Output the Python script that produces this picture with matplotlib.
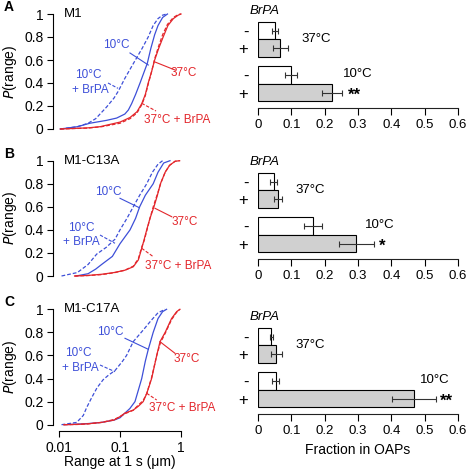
import numpy as np
import matplotlib
matplotlib.use("Agg")
import matplotlib.pyplot as plt

plt.rcParams['font.family'] = ['Liberation Sans', 'DejaVu Sans']
plt.rcParams['mathtext.default'] = 'regular'

W, H = 468, 471
BLUE = '#3d4fd8'
RED = '#e3262b'

# ---------------- data ----------------
panel_letters = ['A', 'B', 'C']
constructs = ['M1', 'M1-C13A', 'M1-C17A']

# CDF curves: x (range at 1 s, um), y (P(range))
a10_x = [0.0105, 0.02, 0.032, 0.06, 0.088, 0.12, 0.137, 0.155, 0.18, 0.213, 0.25, 0.28, 0.32, 0.37, 0.42, 0.5, 0.6]
a10_y = [0, 0.02, 0.05, 0.075, 0.095, 0.13, 0.165, 0.22, 0.3, 0.4, 0.5, 0.57, 0.7, 0.82, 0.9, 0.97, 1.0]
a10b_x = [0.0105, 0.02, 0.03, 0.04, 0.06, 0.08, 0.094, 0.12, 0.15, 0.188, 0.23, 0.29, 0.35, 0.42, 0.5, 0.58]
a10b_y = [0, 0.02, 0.05, 0.09, 0.19, 0.27, 0.33, 0.44, 0.53, 0.62, 0.7, 0.8, 0.9, 0.96, 0.99, 1.0]
a37_x = [0.0105, 0.03, 0.047, 0.1, 0.146, 0.19, 0.227, 0.26, 0.29, 0.33, 0.37, 0.43, 0.51, 0.61, 0.75, 0.9, 1.0]
a37_y = [0, 0.01, 0.02, 0.06, 0.10, 0.15, 0.22, 0.3, 0.4, 0.5, 0.6, 0.7, 0.8, 0.9, 0.96, 0.99, 1.0]
a37b_x = [0.0105, 0.03, 0.05, 0.1, 0.146, 0.19, 0.227, 0.26, 0.29, 0.33, 0.37, 0.43, 0.5, 0.6, 0.75, 0.9, 1.0]
a37b_y = [0, 0.008, 0.02, 0.05, 0.09, 0.14, 0.21, 0.29, 0.39, 0.5, 0.61, 0.72, 0.82, 0.91, 0.97, 0.995, 1.0]

b10_x = [0.019, 0.03, 0.04, 0.05, 0.075, 0.1, 0.146, 0.18, 0.21, 0.26, 0.35, 0.42, 0.52, 0.66]
b10_y = [0, 0.02, 0.06, 0.1, 0.17, 0.28, 0.4, 0.5, 0.6, 0.7, 0.8, 0.9, 0.98, 1.0]
b10b_x = [0.011, 0.02, 0.03, 0.0415, 0.06, 0.083, 0.1, 0.13, 0.165, 0.21, 0.274, 0.34, 0.42, 0.5]
b10b_y = [0, 0.03, 0.1, 0.19, 0.25, 0.32, 0.4, 0.5, 0.6, 0.7, 0.8, 0.9, 0.97, 1.0]
b37_x = [0.018, 0.03, 0.05, 0.08, 0.12, 0.165, 0.2, 0.227, 0.25, 0.274, 0.31, 0.36, 0.41, 0.46, 0.55, 0.65, 0.8, 0.95]
b37_y = [0, 0.005, 0.015, 0.03, 0.05, 0.08, 0.14, 0.24, 0.32, 0.4, 0.5, 0.6, 0.7, 0.8, 0.9, 0.96, 0.995, 1.0]
b37b_x = [0.018, 0.03, 0.05, 0.08, 0.12, 0.165, 0.2, 0.227, 0.25, 0.274, 0.31, 0.355, 0.41, 0.47, 0.55, 0.65, 0.8, 0.95]
b37b_y = [0, 0.004, 0.012, 0.028, 0.05, 0.085, 0.15, 0.25, 0.31, 0.39, 0.5, 0.61, 0.71, 0.81, 0.9, 0.96, 0.995, 1.0]

c10_x = [0.012, 0.02, 0.03, 0.05, 0.08, 0.1, 0.12, 0.145, 0.176, 0.2, 0.227, 0.26, 0.29, 0.35, 0.42, 0.5, 0.58]
c10_y = [0, 0.005, 0.01, 0.02, 0.04, 0.06, 0.1, 0.14, 0.2, 0.3, 0.4, 0.55, 0.65, 0.8, 0.92, 0.98, 1.0]
c10b_x = [0.011, 0.0195, 0.025, 0.0285, 0.034, 0.042, 0.053, 0.065, 0.083, 0.11, 0.128, 0.165, 0.24, 0.32, 0.42, 0.55]
c10b_y = [0, 0.02, 0.08, 0.15, 0.23, 0.32, 0.39, 0.43, 0.47, 0.55, 0.6, 0.72, 0.82, 0.9, 0.97, 1.0]
c37_x = [0.012, 0.02, 0.03, 0.05, 0.08, 0.1, 0.12, 0.165, 0.2, 0.24, 0.274, 0.33, 0.4, 0.453, 0.55, 0.7, 0.85, 0.96]
c37_y = [0, 0.003, 0.008, 0.02, 0.04, 0.07, 0.1, 0.127, 0.16, 0.2, 0.27, 0.4, 0.6, 0.72, 0.8, 0.92, 0.98, 1.0]
c37b_x = [0.012, 0.02, 0.03, 0.05, 0.08, 0.1, 0.12, 0.165, 0.2, 0.24, 0.274, 0.33, 0.4, 0.46, 0.56, 0.7, 0.85, 0.96]
c37b_y = [0, 0.002, 0.007, 0.02, 0.045, 0.07, 0.095, 0.125, 0.17, 0.21, 0.27, 0.41, 0.6, 0.71, 0.8, 0.91, 0.975, 1.0]

curves = [
    [(a10_x, a10_y), (a10b_x, a10b_y), (a37_x, a37_y), (a37b_x, a37b_y)],
    [(b10_x, b10_y), (b10b_x, b10b_y), (b37_x, b37_y), (b37b_x, b37b_y)],
    [(c10_x, c10_y), (c10b_x, c10b_y), (c37_x, c37_y), (c37b_x, c37b_y)],
]

# Bars: order 37-, 37+, 10-, 10+
bar_labels = ['-', '+', '-', '+']
bars_mean = [[0.051, 0.067, 0.099, 0.222],
             [0.047, 0.060, 0.165, 0.295],
             [0.040, 0.055, 0.053, 0.467]]
bars_err = [[0.010, 0.023, 0.018, 0.031],
            [0.010, 0.013, 0.028, 0.053],
            [0.005, 0.017, 0.010, 0.066]]
stars = ['**', '*', '**']
xticks_bar = [0, 0.1, 0.2, 0.3, 0.4, 0.5, 0.6]
xticks_cdf = [0.01, 0.1, 1]
xticklabels_cdf = ['0.01', '0.1', '1']

# ---------------- layout (pixels) ----------------
left_y0 = [129, 276, 424.7]   # pixel y of P=0
left_y1 = [14, 160.7, 309.3]  # pixel y of P=1
bar_axis_py = [108, 259, 414]  # pixel y of bar x-axis
bar_pos = [0, 1, 2.54, 3.54]
bar_unit = 17.5
bar_ylim = (4.42, -0.85)

fig = plt.figure(figsize=(W / 100, H / 100), dpi=100)

def to_data(ax, px, py):
    return ax.transData.inverted().transform((px, H - py))

def pointer(ax, p0, p1, color, dashed=False):
    a = to_data(ax, *p0)
    b = to_data(ax, *p1)
    ax.plot([a[0], b[0]], [a[1], b[1]], color=color, lw=0.8,
            ls=(0, (3, 1.5)) if dashed else '-', clip_on=False)

def label(ax, px, py, s, color, **kw):
    d = to_data(ax, px, py)
    ax.text(d[0], d[1], s, color=color, fontsize=8.5, ha='center', va='center',
            clip_on=False, **kw)

ann = [
    dict(t10=(116.7, 45), p10=((130, 53), (148.3, 65)),
         t10b=((88, 75), (90, 90)), p10b=((108, 83), (118, 88.3)),
         t37=(184, 73), p37=((155, 62), (175, 70)),
         t37b=(177, 120), p37b=((141.7, 103.3), (156, 111))),
    dict(t10=(108.3, 191.7), p10=((120, 198.3), (139.3, 207.7)),
         t10b=((81.7, 228.3), (81.7, 241.7)), p10b=((100, 235), (115, 243.3)),
         t37=(185, 221.7), p37=((155, 208.3), (171.7, 216.7)),
         t37b=(178.3, 266), p37b=((141.7, 248.3), (153.3, 256.7))),
    dict(t10=(110, 331.7), p10=((125, 338.3), (148.3, 349.3)),
         t10b=((78.3, 353.3), (80, 368.3)), p10b=((100, 365), (115, 371.7)),
         t37=(186.7, 359.3), p37=((160, 341.7), (175, 353.3)),
         t37b=(181.7, 408.3), p37b=((146.7, 393.3), (156.7, 400))),
]

degC = '10\u00b0C'
deg37 = '37\u00b0C'

for i in range(3):
    # ---- CDF panel ----
    y0, y1 = left_y0[i], left_y1[i]
    ax = fig.add_axes([59 / W, 1 - y0 / H, 122 / W, (y0 - y1) / H])
    ax.set_xscale('log')
    ax.set_xlim(0.01, 1)
    ax.set_ylim(0, 1)
    styles = [(BLUE, '-'), (BLUE, (0, (3, 1.6))), (RED, '-'), (RED, (0, (3, 1.6)))]
    for (xs, ys), (c, ls) in zip(curves[i], styles):
        ax.plot(xs, ys, color=c, ls=ls, lw=0.9, clip_on=False)
    for s in ['top', 'right']:
        ax.spines[s].set_visible(False)
    ax.spines['left'].set_position(('outward', 4.5))
    ax.spines['left'].set_linewidth(0.8)
    ax.set_yticks([0, 0.2, 0.4, 0.6, 0.8, 1])
    ax.set_yticklabels(['0', '0.2', '0.4', '0.6', '0.8', '1'])
    ax.tick_params(axis='y', length=4.5, width=0.8, pad=2, labelsize=10)
    ax.minorticks_off()
    if i < 2:
        ax.spines['bottom'].set_visible(False)
        ax.set_xticks([])
    else:
        ax.spines['bottom'].set_position(('outward', 4.5))
        ax.spines['bottom'].set_linewidth(0.8)
        ax.set_xticks(xticks_cdf)
        ax.set_xticklabels(xticklabels_cdf)
        ax.tick_params(axis='x', length=4.5, width=0.8, pad=2.5, labelsize=10)
        ax.set_xlabel('Range at 1 s (\u03bcm)', fontsize=10, labelpad=0.5)
    ax.set_ylabel('$\\mathit{P}$(range)', fontsize=10, labelpad=4)
    ax.text(0.04, 1.0, constructs[i], transform=ax.transAxes, fontsize=9.5,
            ha='left', va='center')
    fig.text(4 / W, 1 - (left_y1[i] - 7) / H, panel_letters[i], fontsize=10,
             fontweight='bold', ha='left', va='center')

    a = ann[i]
    label(ax, *a['t10'], degC, BLUE)
    pointer(ax, *a['p10'], BLUE)
    label(ax, *a['t10b'][0], degC, BLUE)
    label(ax, *a['t10b'][1], '+ BrPA', BLUE)
    pointer(ax, *a['p10b'], BLUE, dashed=True)
    label(ax, *a['t37'], deg37, RED)
    pointer(ax, *a['p37'], RED)
    label(ax, *a['t37b'], deg37 + ' + BrPA', RED)
    pointer(ax, *a['p37b'], RED, dashed=True)

    # ---- Bar panel ----
    bpy = bar_axis_py[i]
    hpx = (bar_ylim[0] - bar_ylim[1]) * bar_unit
    bx = fig.add_axes([258 / W, 1 - bpy / H, 200 / W, hpx / H])
    cols = ['white', '#d0d0d0', 'white', '#d0d0d0']
    bx.barh(bar_pos, bars_mean[i], height=1.0, color=cols, edgecolor='black',
            linewidth=0.8, zorder=2)
    bx.errorbar(bars_mean[i], bar_pos, xerr=bars_err[i], fmt='none', ecolor='#333333',
                elinewidth=0.8, capsize=2.5, capthick=0.8, zorder=3)
    bx.set_xlim(0, 0.6)
    bx.set_ylim(*bar_ylim)
    for s in ['top', 'right', 'left']:
        bx.spines[s].set_visible(False)
    bx.spines['bottom'].set_linewidth(0.8)
    bx.spines['bottom'].set_color('#222222')
    bx.set_xticks(xticks_bar)
    bx.set_xticklabels(['0', '0.1', '0.2', '0.3', '0.4', '0.5', '0.6'])
    bx.tick_params(axis='x', length=5, width=0.8, pad=3, labelsize=9.5)
    bx.set_yticks(bar_pos)
    bx.set_yticklabels(bar_labels, fontsize=12)
    bx.tick_params(axis='y', length=0, pad=7)
    bx.text(-0.025, -1.15, 'BrPA', fontsize=9.5, style='italic', ha='left',
            va='center', clip_on=False)
    t37x = [0.13, 0.111, 0.111][i]
    t10x = [0.254, 0.321, 0.486][i]
    starx = [0.27, 0.363, 0.547][i]
    bx.text(t37x, 0.5, deg37, fontsize=9.5, ha='left', va='center')
    bx.text(t10x, bar_pos[2] - 0.05, degC, fontsize=9.5, ha='left', va='center')
    bx.text(starx, bar_pos[3] + 0.15, stars[i], fontsize=12, fontweight='bold',
            ha='left', va='center')
    if i == 2:
        bx.set_xlabel('Fraction in OAPs', fontsize=10, labelpad=4)

fig.savefig('out.png', dpi=100)
